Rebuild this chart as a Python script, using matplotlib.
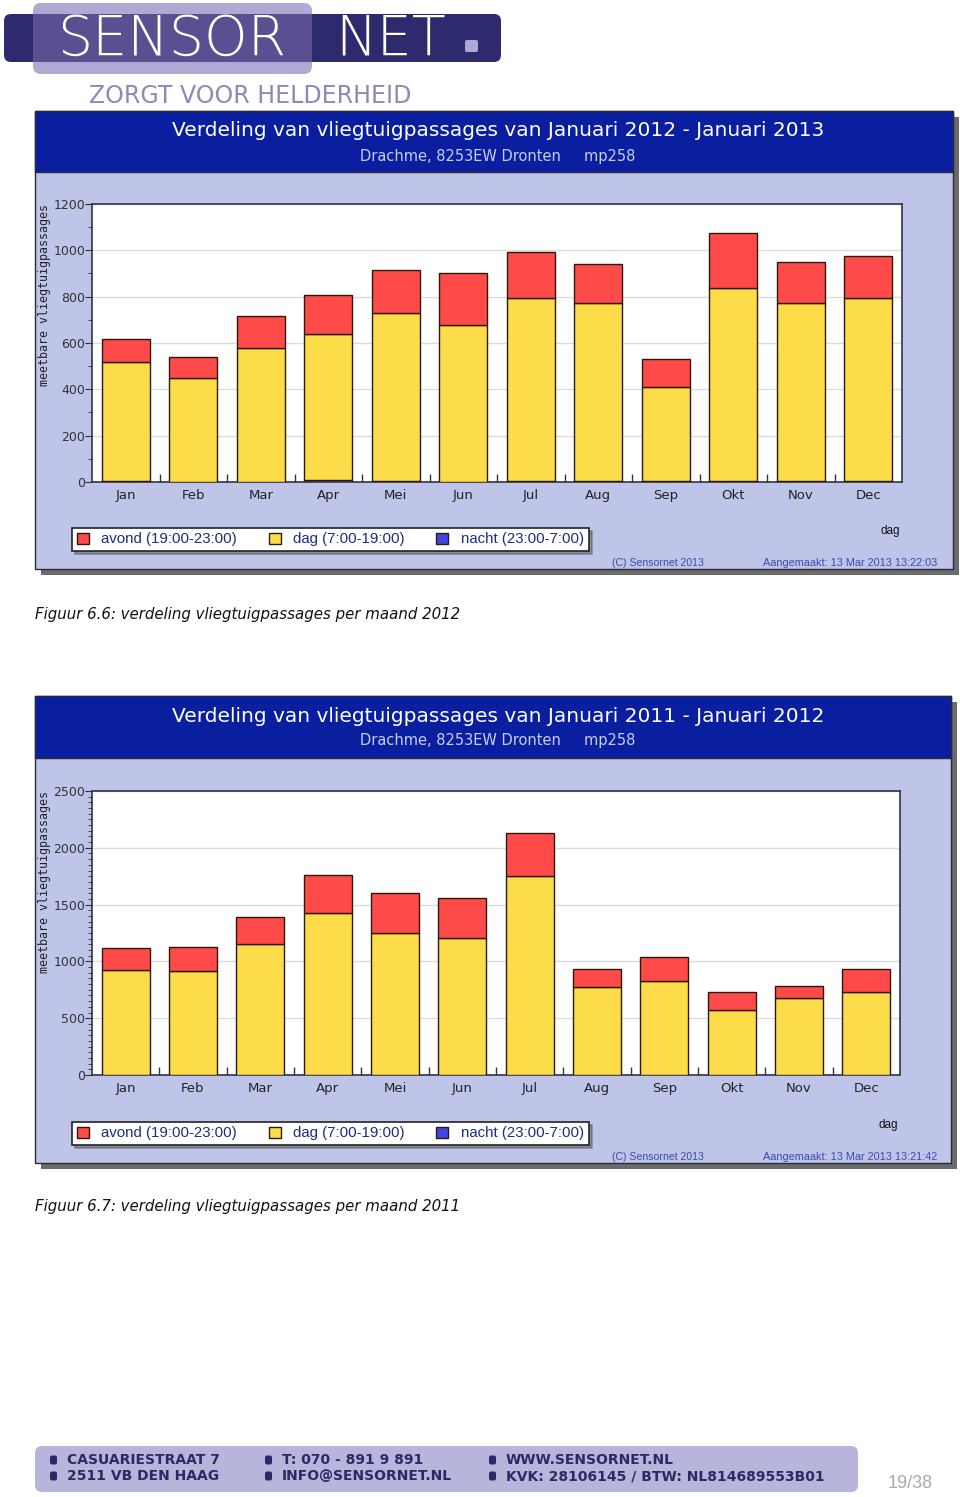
import matplotlib
matplotlib.use("Agg")
import matplotlib.pyplot as plt
from matplotlib.patches import Rectangle, FancyBboxPatch, Patch
from matplotlib.ticker import MultipleLocator, FixedLocator
import numpy as np

# ---------------- data ----------------
months = ["Jan", "Feb", "Mar", "Apr", "Mei", "Jun", "Jul", "Aug", "Sep", "Okt", "Nov", "Dec"]

# 2012 (Jan 2012 - Jan 2013)
nacht_2012 = [4, 0, 0, 10, 4, 0, 3, 3, 3, 4, 3, 3]
dag_2012 = [512, 447, 580, 631, 727, 677, 793, 769, 408, 832, 769, 793]
avond_2012 = [101, 91, 137, 167, 186, 226, 197, 171, 121, 238, 176, 181]

# 2011 (Jan 2011 - Jan 2012)
nacht_2011 = [2, 2, 2, 2, 2, 2, 2, 2, 2, 2, 2, 2]
dag_2011 = [924, 915, 1147, 1425, 1249, 1200, 1748, 769, 822, 572, 675, 731]
avond_2011 = [188, 208, 240, 337, 355, 354, 381, 158, 219, 159, 105, 196]

title_2012 = "Verdeling van vliegtuigpassages van Januari 2012 - Januari 2013"
title_2011 = "Verdeling van vliegtuigpassages van Januari 2011 - Januari 2012"
subtitle = "Drachme, 8253EW Dronten     mp258"
ylabel = "meetbare vliegtuigpassages"
legend_labels = ["avond (19:00-23:00)", "dag (7:00-19:00)", "nacht (23:00-7:00)"]
caption_2012 = "Figuur 6.6: verdeling vliegtuigpassages per maand 2012"
caption_2011 = "Figuur 6.7: verdeling vliegtuigpassages per maand 2011"
stamp_2012 = "Aangemaakt: 13 Mar 2013 13:22:03"
stamp_2011 = "Aangemaakt: 13 Mar 2013 13:21:42"

# ---------------- style ----------------
W, H = 960, 1497
C_AVOND = "#ff4a4a"
C_DAG = "#fcdc48"
C_NACHT = "#4444e0"
C_EDGE = "#2a1a0c"
C_BAND = "#0a1f9f"
C_LAV = "#bfc5e8"
C_LEGTXT = "#1f2d7a"
NARROW = ["Liberation Sans Narrow", "Liberation Sans", "DejaVu Sans"]

fig = plt.figure(figsize=(W / 100, H / 100), dpi=100)
bg = fig.add_axes([0, 0, 1, 1], zorder=0)
bg.set_xlim(0, W)
bg.set_ylim(H, 0)
bg.axis("off")


def fr(x0, y0, x1, y1):
    return [x0 / W, 1 - y1 / H, (x1 - x0) / W, (y1 - y0) / H]


# ---------------- logo ----------------
bg.add_patch(FancyBboxPatch((33, 3), 279, 71, boxstyle="round,pad=0,rounding_size=8",
                            fc="#aeaad3", ec="none"))
bg.add_patch(FancyBboxPatch((4, 14), 497, 48, boxstyle="round,pad=0,rounding_size=7",
                            fc="#2e2a6e", ec="none"))
bg.add_patch(Rectangle((33, 14), 279, 48, fc="#5a4f91", ec="none"))
bg.text(172, 40, "SENSOR", color="white", fontsize=40, family="DejaVu Sans",
        fontweight="light", ha="center", va="center")
bg.text(391, 40, "NET", color="white", fontsize=40, family="DejaVu Sans",
        fontweight="light", ha="center", va="center")
bg.add_patch(FancyBboxPatch((465, 40), 13, 12, boxstyle="round,pad=0,rounding_size=2",
                            fc="#aeaad3", ec="none"))
bg.text(250, 96, "ZORGT VOOR HELDERHEID", color="#8e8ab8", fontsize=17,
        family="DejaVu Sans", ha="center", va="center")


# ---------------- chart panels ----------------
def panel(top, bottom, right, band_bottom, title, stamp):
    left = 35
    bg.add_patch(Rectangle((left + 6, top + 6), right - left, bottom - top, fc="#6b6b6b", ec="none"))
    bg.add_patch(Rectangle((left, top), right - left, bottom - top, fc=C_LAV, ec="#2a2a3a", lw=1))
    bg.add_patch(Rectangle((left, top), right - left, band_bottom - top, fc=C_BAND, ec="#2a2a3a", lw=1))
    bg.text(498, top + 20, title, color="white", fontsize=14.5, ha="center", va="center",
            family="DejaVu Sans")
    bg.text(498, top + 45, subtitle, color="#c9cdf0", fontsize=10.5, ha="center", va="center",
            family="DejaVu Sans")
    bg.text(right - 63, bottom - 38, "dag", color="#111111", fontsize=8.5, ha="center",
            va="center", family=NARROW)
    bg.text(658, bottom - 6, "(C) Sensornet 2013", color="#3a4ab0", fontsize=7.6,
            ha="center", va="center", family=NARROW)
    bg.text(850, bottom - 6, stamp, color="#3a4ab0", fontsize=7.8, ha="center",
            va="center", family=NARROW)


def chart(rect, nacht, dag, avond, ymax, major, minor, leg_y):
    ax = fig.add_axes(rect, zorder=2)
    x = np.arange(len(months))
    nacht = np.array(nacht)
    dag = np.array(dag)
    avond = np.array(avond)
    bw = 0.71
    ax.bar(x, nacht, bw, color=C_NACHT, edgecolor=C_EDGE, lw=1, zorder=3)
    ax.bar(x, dag, bw, bottom=nacht, color=C_DAG, edgecolor=C_EDGE, lw=1, zorder=3)
    ax.bar(x, avond, bw, bottom=nacht + dag, color=C_AVOND, edgecolor=C_EDGE, lw=1, zorder=3)
    ax.set_xlim(-0.5, len(months) - 0.5)
    ax.set_ylim(0, ymax)
    ax.set_facecolor("white")
    ax.yaxis.set_major_locator(MultipleLocator(major))
    ax.yaxis.set_minor_locator(MultipleLocator(minor))
    ax.grid(axis="y", which="major", color="#dcdcdc", lw=1, zorder=0)
    ax.set_axisbelow(True)
    ax.set_xticks(x)
    ax.set_xticklabels(months)
    ax.xaxis.set_minor_locator(FixedLocator(np.arange(0.5, len(months) - 1, 1.0)))
    ax.tick_params(axis="x", which="major", length=0, pad=5, labelsize=9.5, labelcolor="#222222")
    ax.tick_params(axis="x", which="minor", direction="in", length=6, color="#333333", width=1)
    ax.tick_params(axis="y", which="major", direction="out", length=5, color="#333333",
                   labelsize=9, labelcolor="#333333", pad=0)
    ax.tick_params(axis="y", which="minor", direction="out", length=3, color="#333333")
    for s in ax.spines.values():
        s.set_color("#333344")
        s.set_linewidth(1.2)
    ax.set_ylabel(ylabel, family="DejaVu Sans Mono", fontsize=8.4, color="#222222", loc="top")
    ax.yaxis.set_label_coords(-0.051, 1.0)
    handles = [Patch(fc=C_AVOND, ec=C_EDGE), Patch(fc=C_DAG, ec=C_EDGE), Patch(fc=C_NACHT, ec=C_EDGE)]
    leg = ax.legend(handles, legend_labels, loc="upper left", bbox_to_anchor=(72, leg_y),
                    bbox_transform=bg.transData, ncol=3, frameon=True, fancybox=False,
                    shadow={"color": "#555555"}, borderaxespad=0, handlelength=0.8,
                    handleheight=0.8, handletextpad=0.85, columnspacing=2.1, borderpad=0.3,
                    prop={"family": NARROW, "size": 10.8})
    leg.get_frame().set_edgecolor("#222222")
    leg.get_frame().set_linewidth(1.2)
    for t in leg.get_texts():
        t.set_color(C_LEGTXT)
    return ax


panel(111, 569, 953, 172, title_2012, stamp_2012)
chart(fr(92, 204, 902, 482), nacht_2012, dag_2012, avond_2012, 1200, 200, 100, 528)
bg.text(35, 614, caption_2012, fontsize=10.8, style="italic", family="DejaVu Sans",
        color="#111111", ha="left", va="center")

panel(696, 1163, 951, 758, title_2011, stamp_2011)
chart(fr(92, 791, 900, 1075), nacht_2011, dag_2011, avond_2011, 2500, 500, 50, 1122)
bg.text(35, 1206, caption_2011, fontsize=10.8, style="italic", family="DejaVu Sans",
        color="#111111", ha="left", va="center")

# ---------------- footer ----------------
bg.add_patch(FancyBboxPatch((35, 1446), 823, 46, boxstyle="round,pad=0,rounding_size=7",
                            fc="#b8b5dc", ec="none"))
footer_rows = [
    ["CASUARIESTRAAT 7", "T: 070 - 891 9 891", "WWW.SENSORNET.NL"],
    ["2511 VB DEN HAAG", "INFO@SENSORNET.NL", "KVK: 28106145 / BTW: NL814689553B01"],
]
col_x = [50, 265, 489]
row_y = [1460, 1476]
for r, row in enumerate(footer_rows):
    for c, txt in enumerate(row):
        bg.add_patch(FancyBboxPatch((col_x[c], row_y[r] - 4.5), 7, 9,
                                    boxstyle="round,pad=0,rounding_size=2",
                                    fc="#2b2a66", ec="none"))
        bg.text(col_x[c] + 17, row_y[r], txt, color="#2b2a66", fontsize=10,
                fontweight="bold", family="DejaVu Sans", ha="left", va="center")
bg.text(910, 1483, "19/38", color="#aaaaaa", fontsize=13, family=NARROW,
        ha="center", va="center")

fig.savefig("out.png", dpi=100)
